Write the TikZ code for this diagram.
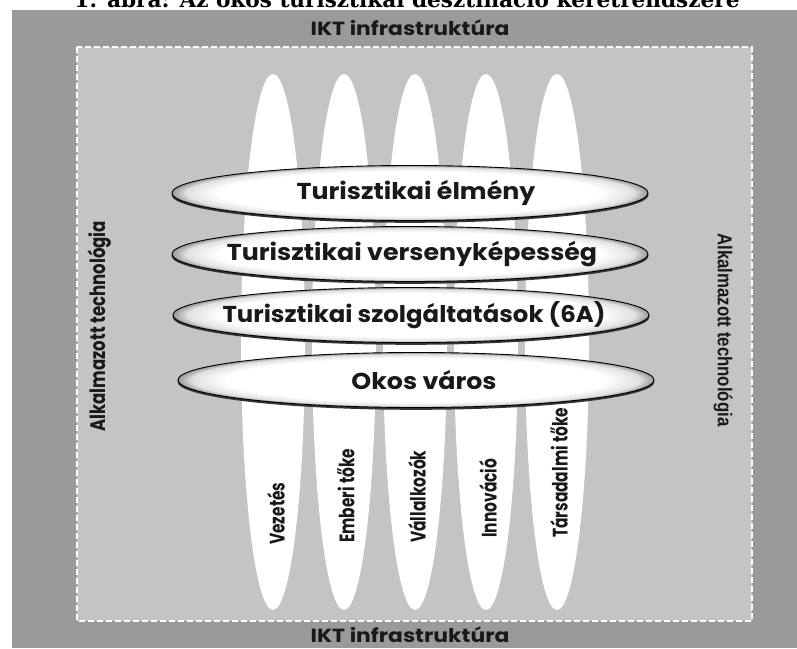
\documentclass[tikz,border=0pt]{standalone}
\usepackage{fontspec}
\setmainfont{Poppins}
\newfontfamily\titlefont{DejaVu Serif}
\newfontfamily\arialfont{Liberation Sans}
\usetikzlibrary{shapes.geometric}
\definecolor{outergray}{HTML}{9A9A9A}
\definecolor{innergray}{HTML}{C4C4C4}
\pgfdeclareradialshading{rim}{\pgfpoint{0bp}{0bp}}{color(0bp)=(white); color(20bp)=(white); color(23.5bp)=(black!12); color(25bp)=(black!40); color(50bp)=(black!40)}
\newcommand\condtext[1]{\scalebox{0.735}[1]{#1}}
\begin{document}
\begin{tikzpicture}[x=1pt,y=-1pt,
  pillar/.style={ellipse, fill=white, draw=none, minimum width=64pt, minimum height=536pt, inner sep=0pt},
  layer/.style={ellipse, shading=rim, draw=black, line width=0.9pt, minimum width=476pt, minimum height=55pt, inner sep=0pt},
  layershadow/.style={ellipse, fill=black!80, draw=none, minimum width=477pt, minimum height=56pt, inner sep=0pt},
  layertext/.style={font=\fontsize{23}{23}\selectfont\bfseries, inner sep=0pt, text=black!90},
  vlabel/.style={font=\fontsize{21}{21}\selectfont\bfseries, rotate=90, anchor=west, inner sep=0pt, text=black!90},
  ikt/.style={font=\fontsize{19}{19}\selectfont\bfseries, inner sep=0pt, text=black!90},
]
\useasboundingbox (0,0) rectangle (797,648);
\fill[white] (0,0) rectangle (797,648);
% title (cut at top, as in the reference)
\node (title) [font=\titlefont\bfseries\fontsize{19}{19}\selectfont, anchor=base, inner sep=0pt] at (407,7) {\resizebox{665pt}{!}{1. ábra: Az okos turisztikai desztináció keretrendszere}};
% backgrounds
\fill[outergray] (12,10) rectangle (797,648);
\fill[innergray] (77,47) rectangle (752,621);
\draw[white, line width=2pt, dash pattern=on 6pt off 3pt] (77,47) rectangle (752,621);
% IKT labels
\node (iktTop) [ikt] at (410,28) {\scalebox{1.15}[1]{IKT infrastruktúra}};
\node (iktBot) [ikt] at (410,635) {\scalebox{1.15}[1]{IKT infrastruktúra}};
% side labels
\node (leftTech) [vlabel] at (100,432) {\scalebox{0.79}[1]{Alkalmazott technológia}};
\node (rightTech) [vlabel, rotate=180, font=\arialfont\fontsize{20}{20}\selectfont\bfseries] at (723,233) {\scalebox{0.84}[1]{Alkalmazott technológia}};
% pillars
\foreach \n/\x in {p1/273, p2/344, p3/415, p4/486, p5/557}
  \node (\n) [pillar] at (\x,342) {};
% layers
\foreach \n/\x/\y in {l1/410/193, l2/410/254, l3/411/315, l4/416/380}{
  \node (\n s) [layershadow] at (\x,\y+1.8) {};
  \node (\n) [layer] at (\x,\y) {};
}
\node (t1) [layertext] at ([xshift=6pt]l1) {\scalebox{1.1}[1]{Turisztikai élmény}};
\node (t2) [layertext] at ([xshift=2pt]l2) {\scalebox{1.1}[1]{Turisztikai versenyképesség}};
\node (t3) [layertext] at ([xshift=3pt]l3) {\scalebox{1.06}[1]{Turisztikai szolgáltatások (6A)}};
\node (t4) [layertext] at ([xshift=8pt]l4) {\scalebox{1.1}[1]{Okos város}};
% pillar labels
\node (v1) [vlabel] at (276,545) {\condtext{Vezetés}};
\node (v2) [vlabel] at (346,543) {\condtext{Emberi tőke}};
\node (v3) [vlabel] at (417,543) {\condtext{Vállalkozók}};
\node (v4) [vlabel] at (488,538) {\condtext{Innováció}};
\node (v5) [vlabel] at (559,538) {\condtext{Társadalmi tőke}};
\end{tikzpicture}
\end{document}
